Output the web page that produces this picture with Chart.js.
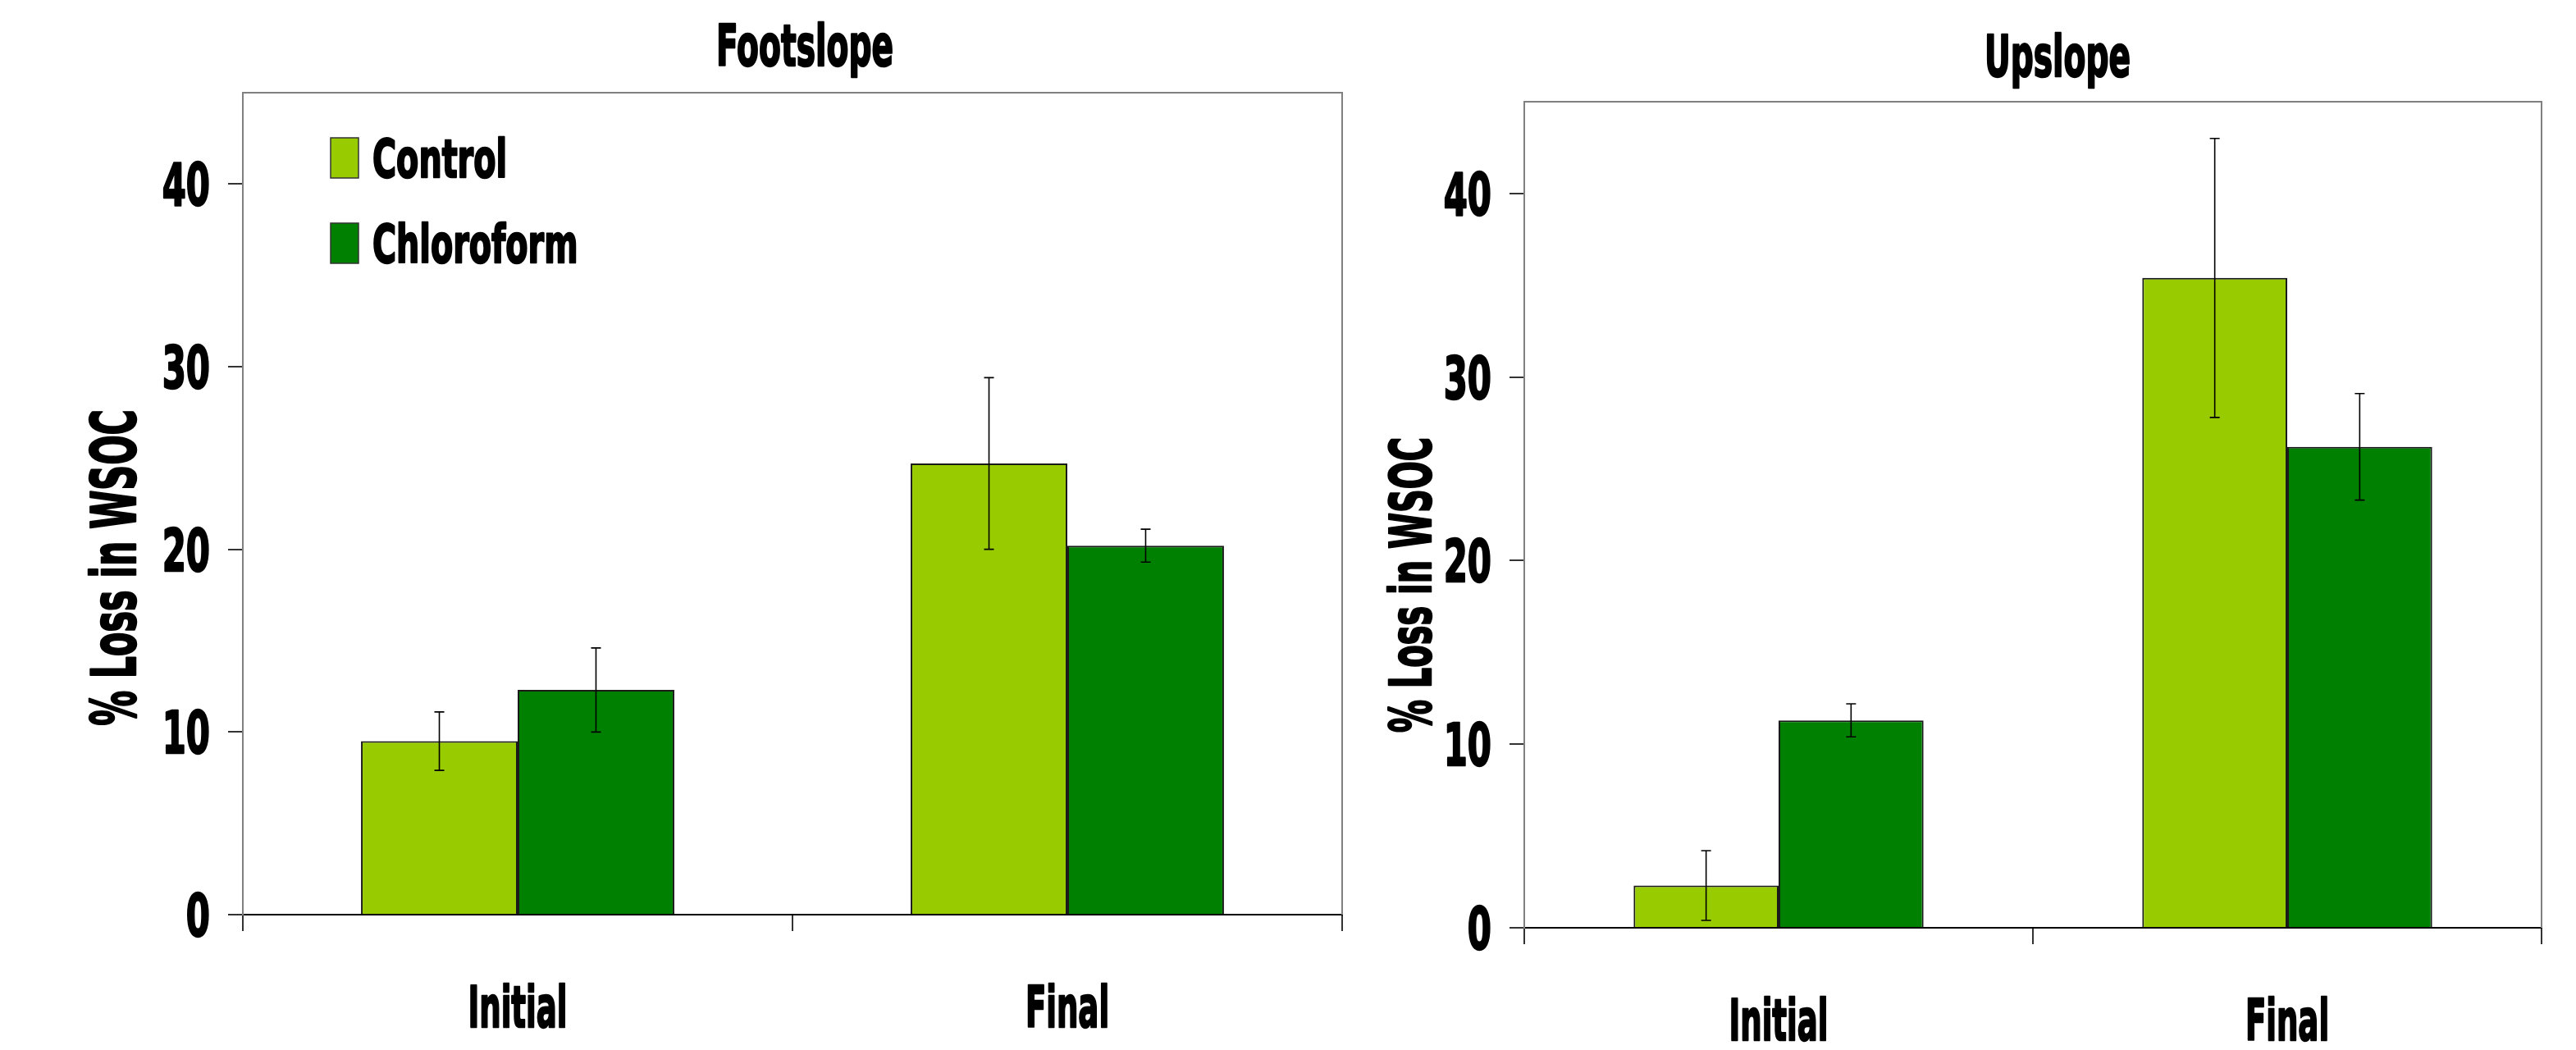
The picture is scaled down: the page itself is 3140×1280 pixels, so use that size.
<!DOCTYPE html>
<html>
<head>
<meta charset="utf-8">
<script src="https://cdn.jsdelivr.net/npm/chart.js@4.4.1/dist/chart.umd.min.js"></script>
<style>
  html, body { margin: 0; padding: 0; background: #fff; }
  #wrap { position: relative; width: 3140px; height: 1280px; }
  canvas { position: absolute; top: 0; }
  #footChart { left: 0; }
  #upChart { left: 1660px; }
</style>
</head>
<body>
<div id="wrap">
  <canvas id="footChart" width="1660" height="1280"></canvas>
  <canvas id="upChart" width="1480" height="1280"></canvas>
</div>
<script>
// values (% loss in WSOC, +/- error)
var categories = ['Initial', 'Final'];
var seriesNames = ['Control', 'Chloroform'];

var footControl = [9.5, 24.7];
var footControlErr = [1.6, 4.7];
var footChloro = [12.3, 20.2];
var footChloroErr = [2.3, 0.9];

var upControl = [2.3, 35.4];
var upControlErr = [1.9, 7.6];
var upChloro = [11.3, 26.2];
var upChloroErr = [0.9, 2.9];

var yTicks = [0, 10, 20, 30, 40];
var yMax = 45;
var yTitle = '% Loss in WSOC';

var colControl = '#99CC00';
var colChloro = '#008000';
var fontFam = "'DejaVu Sans', sans-serif";

// the original uses a narrow extra-bold face: squeeze horizontally and thicken a bit
function squeezeText(ctx, text, x, y, size, sx, align, rot) {
    ctx.save();
    ctx.translate(x, y);
    if (rot) ctx.rotate(rot);
    ctx.scale(sx, 1);
    ctx.font = 'bold ' + size + 'px ' + fontFam;
    ctx.fillStyle = '#000';
    ctx.strokeStyle = '#000';
    ctx.lineWidth = 2.5;
    ctx.lineJoin = 'round';
    ctx.textAlign = align;
    ctx.textBaseline = 'alphabetic';
    ctx.fillText(text, 0, 0);
    ctx.strokeText(text, 0, 0);
    ctx.restore();
}

// error bars on top of each bar
var errorBars = {
    id: 'errorBars',
    afterDatasetsDraw: function (chart) {
        var ctx = chart.ctx;
        var yScale = chart.scales.y;
        ctx.save();
        ctx.strokeStyle = '#000';
        ctx.lineWidth = 1.6;
        chart.data.datasets.forEach(function (ds, i) {
            var meta = chart.getDatasetMeta(i);
            meta.data.forEach(function (bar, j) {
                var v = ds.data[j], e = ds.errors[j];
                var x = bar.x;
                var yTop = yScale.getPixelForValue(v + e);
                var yBot = yScale.getPixelForValue(v - e);
                ctx.beginPath();
                ctx.moveTo(x, yTop); ctx.lineTo(x, yBot);
                ctx.moveTo(x - 6, yTop); ctx.lineTo(x + 6, yTop);
                ctx.moveTo(x - 6, yBot); ctx.lineTo(x + 6, yBot);
                ctx.stroke();
            });
        });
        ctx.restore();
    }
};

// grey frame on top and right of the plot area
var frame = {
    id: 'frame',
    beforeDatasetsDraw: function (chart) {
        var a = chart.chartArea, ctx = chart.ctx;
        ctx.save();
        ctx.strokeStyle = '#808080';
        ctx.lineWidth = 2;
        ctx.beginPath();
        ctx.moveTo(a.left, a.top); ctx.lineTo(a.right, a.top); ctx.lineTo(a.right, a.bottom);
        ctx.stroke();
        ctx.restore();
    }
};

// title, tick labels and axis title in the narrow bold style
var texts = {
    id: 'texts',
    afterDraw: function (chart, args, o) {
        var ctx = chart.ctx, a = chart.chartArea;
        var xs = chart.scales.x, ys = chart.scales.y;
        squeezeText(ctx, o.title, (a.left + a.right) / 2 + o.titleDx, o.titleBase, 70, 0.56, 'center');
        chart.data.labels.forEach(function (lab, i) {
            squeezeText(ctx, lab, xs.getPixelForTick(i), a.bottom + 137, 70, 0.53, 'center');
        });
        ys.ticks.forEach(function (t) {
            squeezeText(ctx, String(t.value), a.left - 40, ys.getPixelForValue(t.value) + 26, 71, 0.59, 'right');
        });
        squeezeText(ctx, yTitle, o.ytX + 26, o.ytY, o.ytSize, 0.57, 'center', -Math.PI / 2);
    }
};

// legend inside the plot, top-left
var boxLegend = {
    id: 'boxLegend',
    afterDraw: function (chart, args, opts) {
        if (!opts.show) return;
        var a = chart.chartArea, ctx = chart.ctx;
        chart.data.datasets.forEach(function (ds, i) {
            var bx = a.left + 107;
            var by = a.top + 55 + i * 104;
            ctx.save();
            ctx.fillStyle = ds.backgroundColor;
            ctx.fillRect(bx, by, 34, 49);
            ctx.strokeStyle = '#333';
            ctx.lineWidth = 1.5;
            ctx.strokeRect(bx, by, 34, 49);
            ctx.restore();
            squeezeText(ctx, ds.label, bx + 51, by + 48, 64, 0.62, 'left');
        });
    }
};

function makeChart(id, title, ctrl, ctrlErr, chl, chlErr, g) {
    var ctx = document.getElementById(id).getContext('2d');
    return new Chart(ctx, {
        type: 'bar',
        data: {
            labels: categories,
            datasets: [
                {
                    label: seriesNames[0],
                    data: ctrl,
                    errors: ctrlErr,
                    backgroundColor: colControl,
                    borderColor: '#1a1a1a',
                    borderWidth: 2,
                    categoryPercentage: 0.57,
                    barPercentage: 1.0,
                },
                {
                    label: seriesNames[1],
                    data: chl,
                    errors: chlErr,
                    backgroundColor: colChloro,
                    borderColor: '#1a1a1a',
                    borderWidth: 2,
                    categoryPercentage: 0.57,
                    barPercentage: 1.0,
                },
            ],
        },
        options: {
            responsive: false,
            animation: false,
            layout: { padding: { left: 0, right: g.padRight, top: g.top, bottom: 0 } },
            plugins: {
                legend: { display: false },
                tooltip: { enabled: false },
                title: { display: false },
                texts: { title: title, titleDx: g.titleDx, titleBase: g.titleBase, ytX: g.ytX, ytY: g.ytY, ytSize: g.ytSize },
                boxLegend: { show: g.legend },
            },
            scales: {
                x: {
                    ticks: { display: false },
                    grid: { drawOnChartArea: false, tickLength: 20, color: '#333', lineWidth: 2, offset: true },
                    border: { color: '#000', width: 2 },
                    afterFit: function (s) { s.height = 1280 - g.bottom; },
                },
                y: {
                    min: 0,
                    max: yMax,
                    afterBuildTicks: function (s) {
                        s.ticks = yTicks.map(function (v) { return { value: v }; });
                    },
                    ticks: { display: false },
                    grid: { drawOnChartArea: false, tickLength: 18, color: '#333', lineWidth: 2 },
                    border: { color: '#808080', width: 2 },
                    afterFit: function (s) { s.width = g.yWidth; },
                },
            },
        },
        plugins: [frame, errorBars, texts, boxLegend],
    });
}

makeChart('footChart', 'Footslope', footControl, footControlErr, footChloro, footChloroErr, {
    padRight: 24, top: 113, yWidth: 296, bottom: 1115,
    titleDx: 15, titleBase: 80, ytX: 139, ytY: 692, ytSize: 75, legend: true,
});

makeChart('upChart', 'Upslope', upControl, upControlErr, upChloro, upChloroErr, {
    padRight: 42, top: 124, yWidth: 198, bottom: 1131,
    titleDx: 30, titleBase: 93, ytX: 58, ytY: 713, ytSize: 70, legend: false,
});
</script>
</body>
</html>
